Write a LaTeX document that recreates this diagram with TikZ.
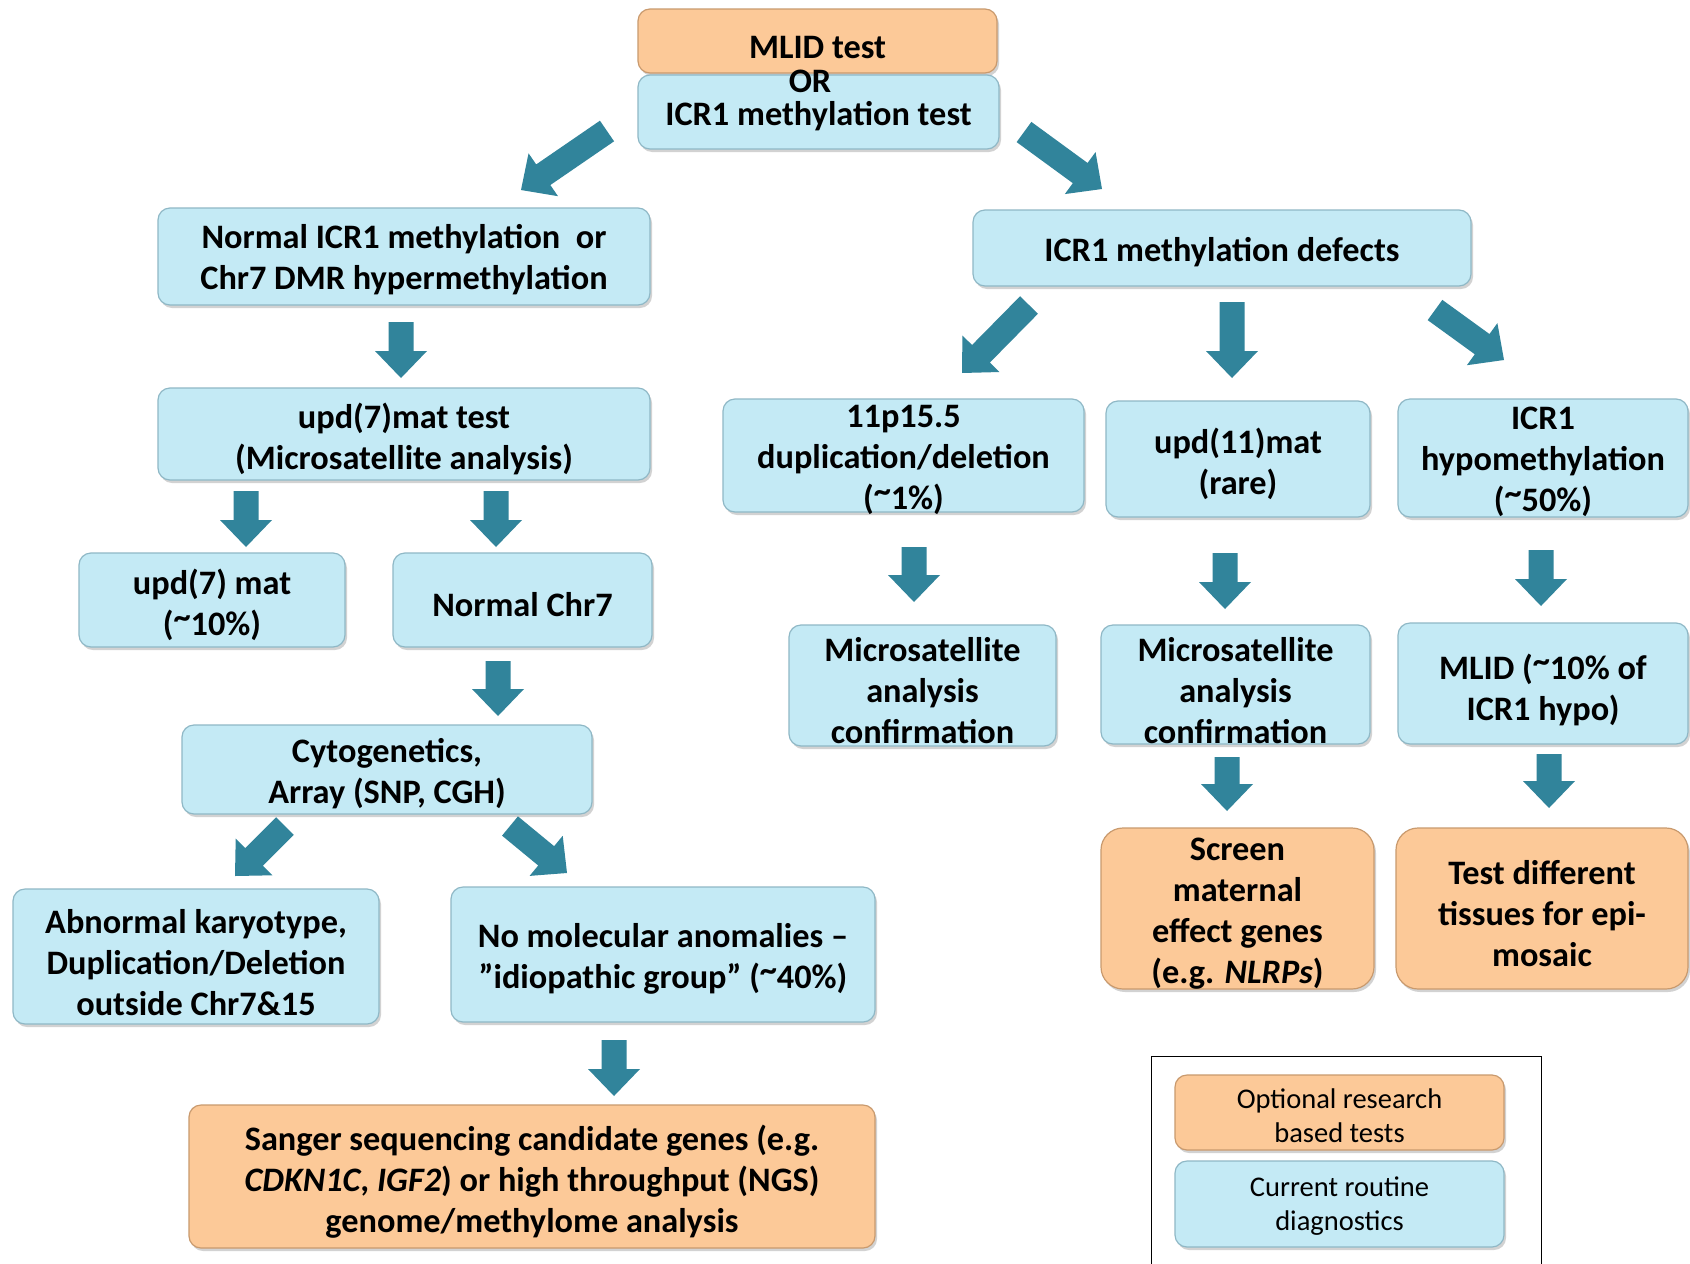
\documentclass[tikz,border=0pt]{standalone}
\usepackage{fontspec}
\setmainfont{Carlito}
\usetikzlibrary{calc,shadows}
\definecolor{boxblue}{HTML}{C4EAF5}
\definecolor{boxblueline}{HTML}{8FB8C6}
\definecolor{boxorange}{HTML}{FCC998}
\definecolor{boxorangeline}{HTML}{C99A6E}
\definecolor{arrowc}{HTML}{31849B}
\newcommand\mainfnt{\fontsize{34.3}{41}\selectfont\bfseries}
\newcommand\legfnt{\fontsize{28.5}{34}\selectfont}
\newcommand\tld{\raisebox{0.4ex}{\textasciitilde}}
% #1 box style, #2 name, #3 cx, #4 cy, #5 w, #6 h, #7 text y, #8 text style, #9 text
\newcommand\flowbox[9]{%
  \node[#1, minimum width=#5pt, minimum height=#6pt] (#2) at (#3,#4) {};
  \node[boxtext, #8] (#2-t) at ($(#3,#7)+(0,2.5)$) {#9};}
\newcommand\barrow[2]{%
  \coordinate (bah) at ($(#2)!27pt!(#1)$);
  \fill[arrowc] ($(#1)!12.5pt!90:(#2)$) -- ($(bah)!12.5pt!-90:(#1)$) -- ($(bah)!26pt!-90:(#1)$) -- (#2)
    -- ($(bah)!26pt!90:(#1)$) -- ($(bah)!12.5pt!90:(#1)$) -- ($(#1)!12.5pt!-90:(#2)$) -- cycle;}
\begin{document}
\begin{tikzpicture}[x=1pt,y=-1pt,
  basebox/.style={rectangle, rounded corners=12pt, line width=1.2pt, inner sep=0pt,
     drop shadow={shadow xshift=2pt, shadow yshift=-3pt, opacity=0.35}},
  bluebox/.style={basebox, fill=boxblue, draw=boxblueline},
  orangebox/.style={basebox, fill=boxorange, draw=boxorangeline},
  boxtext/.style={align=center, inner sep=0pt, font=\mainfnt, text=black},
  legtext/.style={font=\legfnt}]
\useasboundingbox (0,0) rectangle (1690,1264);
\fill[white] (0,0) rectangle (1690,1264);

% top
\flowbox{orangebox}{mlid}{817.5}{41}{359}{64}{45}{}{MLID test}
\flowbox{bluebox}{icrtest}{818.5}{112}{361}{74}{114}{}{ICR1 methylation test}
\node[boxtext] (or) at (810,81) {OR};

% left branch
\flowbox{bluebox}{normal}{404}{256.5}{492}{97}{257.5}{}{Normal ICR1 methylation\ \ or\\Chr7 DMR hypermethylation}
\flowbox{bluebox}{upd7test}{404}{434}{492}{92}{436.5}{}{upd(7)mat test\\(Microsatellite analysis)}
\flowbox{bluebox}{upd7mat}{212}{600}{266}{94}{602}{}{upd(7) mat\\(\tld10\%)}
\flowbox{bluebox}{normalchr}{522.5}{600}{259}{94}{602}{}{Normal Chr7}
\flowbox{bluebox}{cyto}{387}{769.5}{410}{89}{771}{}{Cytogenetics,\\Array (SNP, CGH)}
\flowbox{bluebox}{abnormal}{196}{956.5}{366}{135}{960}{}{Abnormal karyotype,\\Duplication/Deletion\\outside Chr7\&15}
\flowbox{bluebox}{nomol}{663}{954.5}{424}{135}{956}{}{No molecular anomalies –\\”idiopathic group” (\tld40\%)}
\flowbox{orangebox}{sanger}{532}{1176.5}{686}{143}{1179}{}{Sanger sequencing candidate genes (e.g.\\\textit{CDKN1C}, \textit{IGF2}) or high throughput (NGS)\\genome/methylome analysis}

% right branch
\flowbox{bluebox}{defects}{1222}{248}{498}{76}{250}{}{ICR1 methylation defects}
\flowbox{bluebox}{dup}{903.5}{455.5}{361}{113}{457}{}{11p15.5\\duplication/deletion\\(\tld1\%)}
\flowbox{bluebox}{upd11}{1238}{459}{264}{116}{461}{}{upd(11)mat\\(rare)}
\flowbox{bluebox}{hypo}{1543}{458}{290}{118}{459}{}{ICR1\\hypomethylation\\(\tld50\%)}
\flowbox{bluebox}{msa}{922.5}{685.5}{267}{121}{688}{}{Microsatellite\\analysis\\confirmation}
\flowbox{bluebox}{msb}{1235.5}{684.5}{269}{119}{688}{}{Microsatellite\\analysis\\confirmation}
\flowbox{bluebox}{mlidten}{1543}{683.5}{290}{121}{687}{}{MLID (\tld10\% of\\ICR1 hypo)}
\flowbox{orangebox, rounded corners=22pt}{screen}{1237.5}{908.5}{273}{161}{911}{}{Screen\\maternal\\effect genes\\(e.g. \textit{NLRPs})}
\flowbox{orangebox, rounded corners=22pt}{testdiff}{1542}{908.5}{292}{161}{911}{}{Test different\\tissues for epi-\\mosaic}

% legend
\draw[line width=1pt] (1151,1264) -- (1151,1056) -- (1541,1056) -- (1541,1264);
\flowbox{orangebox}{legopt}{1339.5}{1112.5}{329}{75}{1113}{legtext}{Optional research\\based tests}
\flowbox{bluebox}{legcur}{1339.5}{1204}{329}{86}{1203.5}{legtext}{Current routine\\diagnostics}

% arrows
\coordinate (a1s) at (607,131); \coordinate (a1e) at (521,190);
\coordinate (a2s) at (1024,132); \coordinate (a2e) at (1102,189);
\coordinate (a3s) at (401,322); \coordinate (a3e) at (401,378);
\coordinate (a4s) at (246,491); \coordinate (a4e) at (246,547);
\coordinate (a5s) at (496,491); \coordinate (a5e) at (496,547);
\coordinate (a6s) at (498,661); \coordinate (a6e) at (498,716);
\coordinate (a7s) at (285,826); \coordinate (a7e) at (235,876);
\coordinate (a8s) at (510,826); \coordinate (a8e) at (567,873);
\coordinate (a9s) at (614,1040); \coordinate (a9e) at (614,1096);
\coordinate (a10s) at (1029,305); \coordinate (a10e) at (962,373);
\coordinate (a11s) at (1232,302); \coordinate (a11e) at (1232,378);
\coordinate (a12s) at (1435,310); \coordinate (a12e) at (1504,360);
\coordinate (a13s) at (914,547); \coordinate (a13e) at (914,602);
\coordinate (a14s) at (1225,553); \coordinate (a14e) at (1225,609);
\coordinate (a15s) at (1541,550); \coordinate (a15e) at (1541,606);
\coordinate (a16s) at (1227,757); \coordinate (a16e) at (1227,811);
\coordinate (a17s) at (1549,754); \coordinate (a17e) at (1549,808);
\foreach \i in {1,...,17} {\barrow{a\i s}{a\i e}}
\end{tikzpicture}
\end{document}
